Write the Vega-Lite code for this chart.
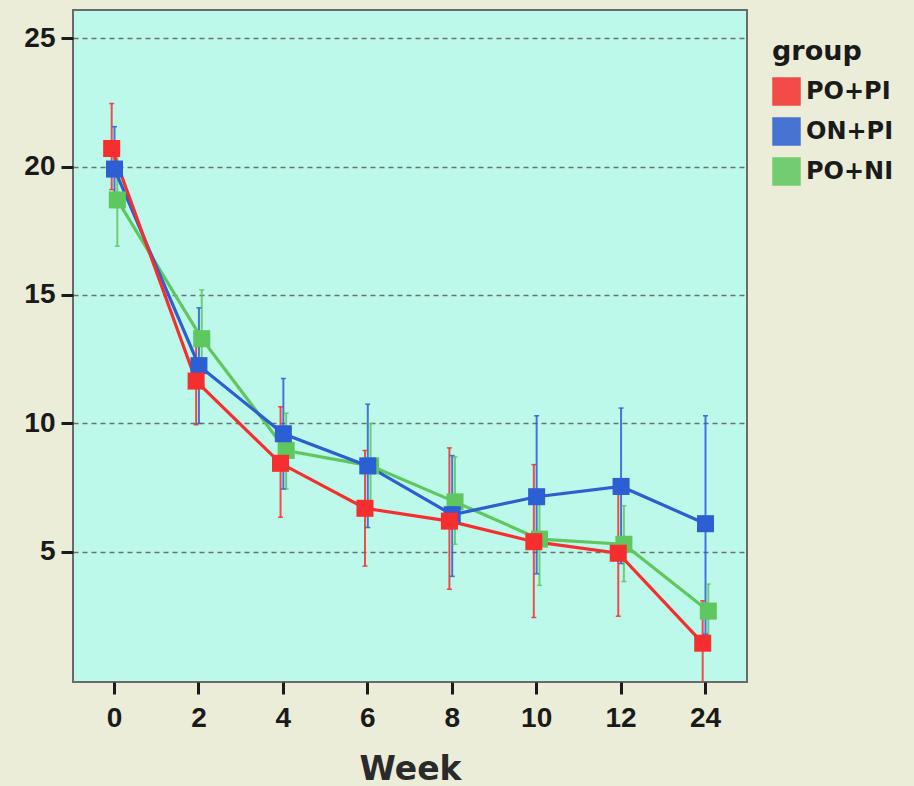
{
  "$schema": "https://vega.github.io/schema/vega-lite/v6.json",
  "autosize": {"type": "none"},
  "width": 674,
  "height": 672,
  "padding": {"left": 73, "top": 10, "right": 167, "bottom": 104},
  "background": "#ecedd8",
  "config": {
    "view": {"fill": "#bdf9ea", "stroke": "#6a6a6a", "strokeWidth": 2},
    "font": "DejaVu Sans",
    "scale": {"offsetBandPaddingInner": 0, "offsetBandPaddingOuter": 0}
  },
  "data": {
    "values": [
      {"week": 0, "group": "PO+NI", "mean": 18.7, "lo": 16.9, "hi": 20.6},
      {"week": 2, "group": "PO+NI", "mean": 13.3, "lo": 11.5, "hi": 15.2},
      {"week": 4, "group": "PO+NI", "mean": 8.95, "lo": 7.45, "hi": 10.4},
      {"week": 6, "group": "PO+NI", "mean": 8.35, "lo": 6.9, "hi": 10.0},
      {"week": 8, "group": "PO+NI", "mean": 6.95, "lo": 5.3, "hi": 8.7},
      {"week": 10, "group": "PO+NI", "mean": 5.5, "lo": 3.7, "hi": 7.3},
      {"week": 12, "group": "PO+NI", "mean": 5.3, "lo": 3.85, "hi": 6.8},
      {"week": 24, "group": "PO+NI", "mean": 2.7, "lo": 1.7, "hi": 3.75},
      {"week": 0, "group": "ON+PI", "mean": 19.9, "lo": 18.5, "hi": 21.55},
      {"week": 2, "group": "ON+PI", "mean": 12.25, "lo": 10.0, "hi": 14.5},
      {"week": 4, "group": "ON+PI", "mean": 9.6, "lo": 7.45, "hi": 11.75},
      {"week": 6, "group": "ON+PI", "mean": 8.35, "lo": 5.95, "hi": 10.75},
      {"week": 8, "group": "ON+PI", "mean": 6.45, "lo": 4.05, "hi": 8.75},
      {"week": 10, "group": "ON+PI", "mean": 7.15, "lo": 4.15, "hi": 10.3},
      {"week": 12, "group": "ON+PI", "mean": 7.55, "lo": 4.55, "hi": 10.6},
      {"week": 24, "group": "ON+PI", "mean": 6.1, "lo": 1.8, "hi": 10.3},
      {"week": 0, "group": "PO+PI", "mean": 20.7, "lo": 19.1, "hi": 22.45},
      {"week": 2, "group": "PO+PI", "mean": 11.65, "lo": 9.95, "hi": 13.5},
      {"week": 4, "group": "PO+PI", "mean": 8.45, "lo": 6.35, "hi": 10.65},
      {"week": 6, "group": "PO+PI", "mean": 6.7, "lo": 4.45, "hi": 8.95},
      {"week": 8, "group": "PO+PI", "mean": 6.2, "lo": 3.55, "hi": 9.05},
      {"week": 10, "group": "PO+PI", "mean": 5.4, "lo": 2.45, "hi": 8.4},
      {"week": 12, "group": "PO+PI", "mean": 4.95, "lo": 2.5, "hi": 7.5},
      {"week": 24, "group": "PO+PI", "mean": 1.45, "lo": -0.3, "hi": 3.1}
    ]
  },
  "encoding": {
    "x": {
      "field": "week", "type": "ordinal", "sort": [0, 2, 4, 6, 8, 10, 12, 24],
      "scale": {"paddingInner": 0.9, "paddingOuter": 0.4415},
      "axis": {
        "title": "Week", "titleFont": "DejaVu Sans", "titleFontSize": 33, "titleFontWeight": "bold", "titleColor": "#2a2a2a", "titlePadding": 21,
        "labelAngle": 0, "labelFont": "Liberation Sans Narrow, Liberation Sans", "labelFontSize": 28, "labelFontWeight": "bold", "labelColor": "#1a1a1a", "labelPadding": 10,
        "tickSize": 12, "tickWidth": 3, "tickColor": "#1a1a1a", "domain": false, "grid": false
      }
    },
    "xOffset": {"field": "group", "type": "nominal", "sort": ["PO+PI", "ON+PI", "PO+NI"]},
    "color": {
      "field": "group", "type": "nominal",
      "scale": {"domain": ["PO+PI", "ON+PI", "PO+NI"], "range": ["#f52f2f", "#2b5fd3", "#5ec85e"]}
    }
  },
  "layer": [
    {
      "mark": {"type": "rule", "strokeWidth": 2, "opacity": 0.85, "clip": true},
      "encoding": {
        "y": {
          "field": "lo", "type": "quantitative",
          "scale": {"domain": [-0.06, 26.09], "nice": false, "zero": false},
          "axis": {
            "title": null, "values": [5, 10, 15, 20, 25],
            "labelFont": "Liberation Sans Narrow, Liberation Sans", "labelFontSize": 28, "labelFontWeight": "bold", "labelColor": "#1a1a1a", "labelPadding": 6,
            "tickSize": 12, "tickWidth": 3, "tickColor": "#1a1a1a", "domain": false,
            "grid": true, "gridColor": "#6f6f6f", "gridDash": [5, 4], "gridWidth": 1.5
          }
        },
        "y2": {"field": "hi"}
      }
    },
    {
      "mark": {"type": "tick", "thickness": 1.5, "size": 5, "opacity": 0.85},
      "encoding": {"y": {"field": "hi", "type": "quantitative"}}
    },
    {
      "mark": {"type": "tick", "thickness": 1.5, "size": 5, "opacity": 0.85, "clip": true},
      "encoding": {"y": {"field": "lo", "type": "quantitative"}}
    },
    {
      "mark": {"type": "line", "strokeWidth": 3.2},
      "encoding": {"y": {"field": "mean", "type": "quantitative"}}
    },
    {
      "mark": {"type": "point", "shape": "square", "filled": true, "size": 290, "opacity": 1},
      "encoding": {
        "y": {"field": "mean", "type": "quantitative"},
        "color": {
          "field": "group", "type": "nominal",
          "scale": {"domain": ["PO+PI", "ON+PI", "PO+NI"], "range": ["#f52f2f", "#2b5fd3", "#5ec85e"]},
          "legend": {
            "orient": "none", "legendX": 699, "legendY": 29,
            "title": "group", "titleFont": "DejaVu Sans", "titleFontSize": 27, "titleFontWeight": "bold", "titleColor": "#1a1a1a", "titlePadding": 11,
            "labelFont": "DejaVu Sans", "labelFontSize": 24, "labelFontWeight": "bold", "labelColor": "#1a1a1a", "labelOffset": 5,
            "symbolType": "square", "symbolSize": 729, "symbolStrokeColor": "#222222", "symbolStrokeWidth": 1.5,
            "rowPadding": 7, "padding": 0,
            "encode": {"symbols": {"update": {"fill": {"scale": "color", "field": "value"}, "stroke": {"value": "#222222"}, "strokeWidth": {"value": 1.5}, "opacity": {"value": 1}}}}
          }
        }
      }
    }
  ]
}
